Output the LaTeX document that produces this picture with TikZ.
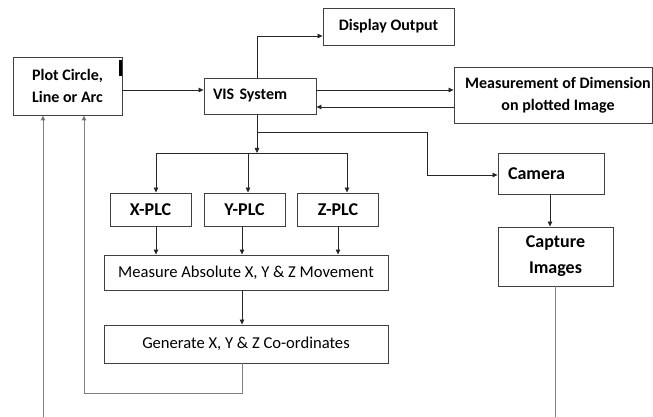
\documentclass[tikz,border=0pt]{standalone}
\usepackage{fontspec}
\setmainfont{Carlito}
\usetikzlibrary{arrows.meta,calc}
\begin{document}
\begin{tikzpicture}[x=1pt,y=-1pt,
  box/.style={draw=black!75,line width=0.9pt,inner sep=0pt,align=center,font=\bfseries\fontsize{16}{22}\selectfont},
  big/.style={font=\bfseries\fontsize{18}{26}\selectfont},
  reg/.style={font=\fontsize{16.6}{22}\selectfont},
  arr/.style={draw=black!85,line width=0.8pt,-{Triangle[length=5pt,width=4.5pt]}},
  ln/.style={draw=black!85,line width=0.8pt},
  garr/.style={draw=black!50,line width=1pt,-{Triangle[length=5pt,width=4.5pt,fill=black!85]}},
  gln/.style={draw=black!50,line width=1pt}]
\useasboundingbox (0,0) rectangle (653,417);
% nodes
\node[box,minimum width=109,minimum height=58] (plot) at (67.5,86) {Plot Circle,\\Line or Arc};
\node[box,minimum width=112,minimum height=36,text width=94,align=left] (vis) at (260,96) {VIS System};
\node[box,minimum width=131,minimum height=37] (disp) at (388.5,26.5) {Display Output};
\node[box,minimum width=198,minimum height=56] (meas) at (553,95) {\hspace*{10pt}Measurement of Dimension\\\hspace*{10pt}on plotted Image};
\node[box,big,minimum width=106,minimum height=41,text width=86,align=left] (cam) at (551,173.5) {Camera};
\node[box,big,minimum width=115,minimum height=59] (cap) at (555.5,256.5) {Capture\\Images};
\node[box,big,minimum width=81,minimum height=33] (xplc) at (150.5,209.5) {X-PLC};
\node[box,big,minimum width=81,minimum height=33] (yplc) at (244.5,209.5) {Y-PLC};
\node[box,big,minimum width=81,minimum height=33] (zplc) at (338,209.5) {Z-PLC};
\node[box,reg,minimum width=284,minimum height=35] (mabs) at (246,272.5) {Measure Absolute X, Y \& Z Movement};
\node[box,reg,minimum width=284,minimum height=38] (gen) at (246,344) {Generate X, Y \& Z Co-ordinates};
% small mark
\fill[black] (119,60) rectangle (121.5,76);
% helper coordinates
\coordinate (c90) at (0,90);
\coordinate (c107) at (0,107);
\coordinate (c36) at (0,36);
\coordinate (c132) at (0,132);
\coordinate (vx) at (257,0);
\coordinate (j1) at (156,153);
\coordinate (j2) at (248,153);
\coordinate (j3) at (347,153);
\coordinate (k) at (427,175);
\coordinate (p1) at (156,0);
\coordinate (p2) at (242,0);
\coordinate (p3) at (338,0);
\coordinate (f1) at (84,393);
\coordinate (bl) at (43,417);
\coordinate (q1) at (550,0);
\coordinate (q2) at (555,417);
% connectors
\draw[arr] (plot.east |- c90) -- (vis.west |- c90);
\draw[arr] (vis.north -| vx) |- (disp.west |- c36);
\draw[arr] (vis.east |- c90) -- (meas.west |- c90);
\draw[arr] (meas.west |- c107) -- (vis.east |- c107);
\draw[arr] (vis.south -| vx) -- (vx |- j1);
\draw[ln] (j1) -- (j3);
\draw[arr] (j1) -- (xplc.north -| j1);
\draw[arr] (j2) -- (yplc.north -| j2);
\draw[arr] (j3) -- (zplc.north -| j3);
\draw[arr] (vx |- c132) -| (k) -- (cam.west |- k);
\draw[arr] (xplc.south -| p1) -- (mabs.north -| p1);
\draw[arr] (yplc.south -| p2) -- (mabs.north -| p2);
\draw[arr] (zplc.south -| p3) -- (mabs.north -| p3);
\draw[arr] (mabs.south -| p2) -- (gen.north -| p2);
\draw[garr] (gen.south -| p2) |- (f1) -- (plot.south -| f1);
\draw[garr] (bl) -- (plot.south -| bl);
\draw[arr] (cam.south -| q1) -- (cap.north -| q1);
\draw[gln] (cap.south -| q2) -- (q2);
\end{tikzpicture}
\end{document}
